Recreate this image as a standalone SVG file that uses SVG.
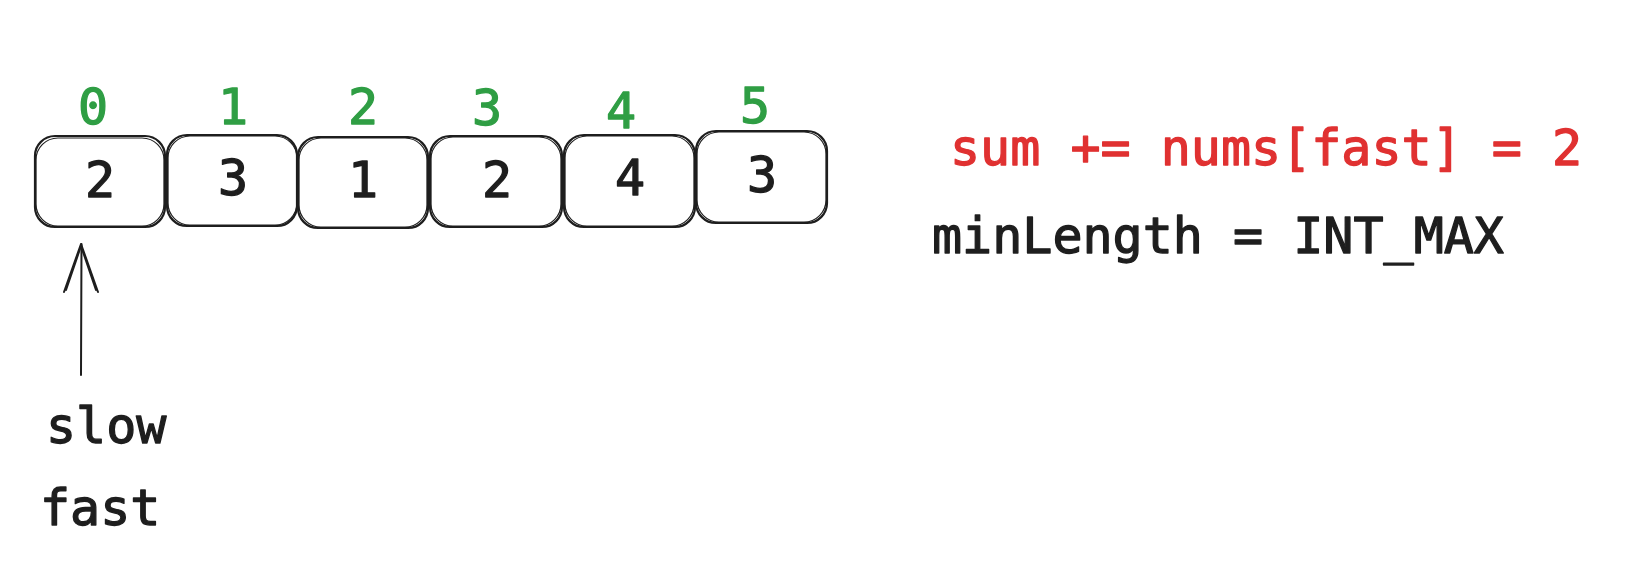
<svg xmlns="http://www.w3.org/2000/svg" width="1646" height="572" viewBox="0 0 1646 572">
<style>
  text { font-family: "DejaVu Sans Mono", "Liberation Mono", monospace; font-size: 50px; stroke-width: 1.3; stroke-linejoin: round; }
  .idx { fill: #2f9e44; stroke: #2f9e44; text-anchor: middle; }
  .val { fill: #1e1e1e; stroke: #1e1e1e; text-anchor: middle; }
  .lbl { fill: #1e1e1e; stroke: #1e1e1e; }
  .red { fill: #e03131; stroke: #e03131; }
  .box { fill: none; stroke: #1e1e1e; stroke-width: 2.2; }
  .box2 { fill: none; stroke: #1e1e1e; stroke-width: 1.2; }
  .arr { fill: none; stroke: #1e1e1e; stroke-width: 2; stroke-linecap: round; stroke-linejoin: round; }
</style>
<rect width="1646" height="572" fill="#ffffff"/>
<g id="cell0">
  <rect class="box" x="35" y="136" width="130" height="91" rx="20"/>
  <rect class="box2" x="36" y="138" width="128" height="88" rx="22"/>
  <text class="idx" x="93" y="124">0</text>
  <text class="val" x="100" y="197">2</text>
</g>
<g id="cell1">
  <rect class="box" x="167" y="135" width="130" height="91" rx="20"/>
  <rect class="box2" x="168" y="136" width="129" height="89" rx="22"/>
  <text class="idx" x="233" y="124">1</text>
  <text class="val" x="233" y="195">3</text>
</g>
<g id="cell2">
  <rect class="box" x="298" y="137" width="130" height="91" rx="20"/>
  <rect class="box2" x="299" y="138" width="128" height="89" rx="22"/>
  <text class="idx" x="363" y="124">2</text>
  <text class="val" x="363" y="197">1</text>
</g>
<g id="cell3">
  <rect class="box" x="430" y="136" width="132" height="91" rx="20"/>
  <rect class="box2" x="431" y="137" width="130" height="89" rx="22"/>
  <text class="idx" x="487" y="125">3</text>
  <text class="val" x="497" y="197">2</text>
</g>
<g id="cell4">
  <rect class="box" x="564" y="135" width="131" height="92" rx="20"/>
  <rect class="box2" x="565" y="136" width="129" height="90" rx="22"/>
  <text class="idx" x="621" y="128">4</text>
  <text class="val" x="630" y="195">4</text>
</g>
<g id="cell5">
  <rect class="box" x="696" y="131" width="131" height="92" rx="20"/>
  <rect class="box2" x="697" y="132" width="129" height="90" rx="22"/>
  <text class="idx" x="755" y="123">5</text>
  <text class="val" x="762" y="192">3</text>
</g>
<g id="connectors">
  <path class="arr" d="M81 375 L81.5 244"/>
  <path class="arr" d="M64 292 L81 244 L98 292"/>
  <path class="arr" d="M66 290 L81 246 L96 290" stroke-width="1.2"/>
</g>
<g id="pointer-label">
  <text class="lbl" x="46" y="443">slow</text>
  <text class="lbl" x="40" y="525">fast</text>
</g>
<g id="sum-label">
  <text class="red" x="950" y="165">sum += nums[fast] = 2</text>
</g>
<g id="min-label">
  <text class="lbl" x="932" y="253">minLength = INT_MAX</text>
</g>
</svg>
